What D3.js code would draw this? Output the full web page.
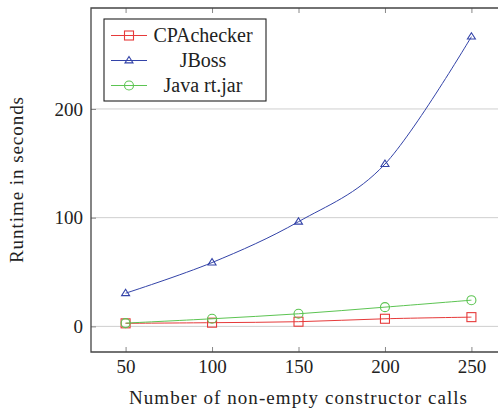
<!DOCTYPE html>
<html>
<head>
<meta charset="utf-8">
<script src="https://cdn.jsdelivr.net/npm/d3@7"></script>
<style>
  body { margin: 0; background: #fff; }
  svg text { font-family: "Liberation Serif", "DejaVu Serif", serif; fill: #222; }
</style>
</head>
<body>
<div id="chart"></div>
<script>
var svgWidth = 498;
var svgHeight = 410;
var serif = "Liberation Serif, DejaVu Serif, serif";

// data
var constructorCalls = [50, 100, 150, 200, 250];
var cpacheckerTimes = [2.8, 3.4, 4.3, 7.0, 8.5];
var jbossTimes = [30.5, 58.7, 96.3, 149.3, 266.5];
var javaRtTimes = [3.0, 7.0, 11.6, 17.7, 24.1];
var xTickValues = [50, 100, 150, 200, 250];
var yTickValues = [0, 100, 200];

var seriesNames = ["CPAchecker", "JBoss", "Java rt.jar"];
var seriesColors = ["#e63a3a", "#3343a8", "#5cc452"];
var seriesMarkers = ["square", "triangle", "circle"];
var seriesValues = [cpacheckerTimes, jbossTimes, javaRtTimes];

// plot box (right side runs past the window, like the reference)
var plot = { left: 91, right: 506, top: 8, bottom: 352 };

var svg = d3.select("#chart")
  .append("svg")
  .attr("width", svgWidth)
  .attr("height", svgHeight);

// pgfplots-style 10% enlargement of the data limits
var xMin = d3.min(constructorCalls), xMax = d3.max(constructorCalls);
var xPad = (xMax - xMin) * 0.1;
var allY = d3.merge(seriesValues);
var yMin = d3.min(allY), yMax = d3.max(allY);
var yPad = (yMax - yMin) * 0.1;

var xScale = d3.scaleLinear()
  .domain([xMin - xPad, xMax + xPad])
  .range([plot.left, plot.right]);

var yScale = d3.scaleLinear()
  .domain([yMin - yPad, yMax + yPad])
  .range([plot.bottom, plot.top]);

// horizontal grid lines
svg.append("g")
  .selectAll("line")
  .data(yTickValues)
  .enter()
  .append("line")
  .attr("x1", plot.left)
  .attr("x2", plot.right)
  .attr("y1", d => yScale(d))
  .attr("y2", d => yScale(d))
  .attr("stroke", "#cfcfcf")
  .attr("stroke-width", 1);

// bottom axis: ticks point inward, labels below
var bottomAxis = d3.axisBottom(xScale)
  .tickValues(xTickValues)
  .tickSizeInner(-5)
  .tickSizeOuter(0)
  .tickPadding(7.5);

var xAxis = svg.append("g")
  .attr("transform", `translate(0, ${plot.bottom})`)
  .call(bottomAxis)
  .attr("font-family", serif)
  .attr("font-size", 19);
xAxis.select(".domain").remove();
xAxis.selectAll(".tick line").attr("stroke", "#888");
xAxis.selectAll("text")
  .style("font-family", serif)
  .style("font-size", "19px")
  .attr("fill", "#222");

// mirrored x ticks along the top
var topAxis = d3.axisTop(xScale)
  .tickValues(xTickValues)
  .tickSizeInner(-5)
  .tickSizeOuter(0)
  .tickFormat("");
var xTopAxis = svg.append("g")
  .attr("transform", `translate(0, ${plot.top})`)
  .call(topAxis);
xTopAxis.select(".domain").remove();
xTopAxis.selectAll(".tick line").attr("stroke", "#888");

// left axis
var leftAxis = d3.axisLeft(yScale)
  .tickValues(yTickValues)
  .tickSizeInner(-5)
  .tickSizeOuter(0)
  .tickPadding(8);
var yAxis = svg.append("g")
  .attr("transform", `translate(${plot.left}, 0)`)
  .call(leftAxis)
  .attr("font-family", serif)
  .attr("font-size", 19);
yAxis.select(".domain").remove();
yAxis.selectAll(".tick line").attr("stroke", "#888");
yAxis.selectAll("text")
  .style("font-family", serif)
  .style("font-size", "19px")
  .attr("fill", "#222");

// frame (left, top, bottom; right edge is outside the window)
svg.append("path")
  .attr("d", `M${plot.right},${plot.top}H${plot.left}V${plot.bottom}H${plot.right}`)
  .attr("fill", "none")
  .attr("stroke", "#444")
  .attr("stroke-width", 1.3);

// marker drawing helper
function drawMarker(g, type, cx, cy, color) {
  if (type === "square") {
    g.append("rect")
      .attr("x", cx - 4.5).attr("y", cy - 4.5)
      .attr("width", 9).attr("height", 9)
      .attr("fill", "none").attr("stroke", color).attr("stroke-width", 1.1);
  } else if (type === "circle") {
    g.append("circle")
      .attr("cx", cx).attr("cy", cy).attr("r", 4.5)
      .attr("fill", "none").attr("stroke", color).attr("stroke-width", 1.1);
  } else {
    var s = 4;
    g.append("path")
      .attr("d", `M${cx},${cy - s}L${cx + s},${cy + s * 0.6}L${cx - s},${cy + s * 0.6}Z`)
      .attr("fill", "none").attr("stroke", color).attr("stroke-width", 1.1);
  }
}

var line = d3.line()
  .x(d => xScale(d[0]))
  .y(d => yScale(d[1]))
  .curve(d3.curveCatmullRom.alpha(0));

var seriesGroup = svg.append("g");
seriesValues.forEach(function(values, i) {
  var pts = constructorCalls.map((c, j) => [c, values[j]]);
  seriesGroup.append("path")
    .datum(pts)
    .attr("d", line)
    .attr("fill", "none")
    .attr("stroke", seriesColors[i])
    .attr("stroke-width", 1);
  pts.forEach(function(p) {
    drawMarker(seriesGroup, seriesMarkers[i], xScale(p[0]), yScale(p[1]), seriesColors[i]);
  });
});

// legend
var legend = svg.append("g").attr("transform", "translate(104, 19)");
legend.append("rect")
  .attr("width", 162)
  .attr("height", 82)
  .attr("fill", "#fff")
  .attr("stroke", "#222")
  .attr("stroke-width", 1.1);

seriesNames.forEach(function(name, i) {
  var ly = 16.5 + i * 25;
  legend.append("line")
    .attr("x1", 7).attr("x2", 43)
    .attr("y1", ly).attr("y2", ly)
    .attr("stroke", seriesColors[i])
    .attr("stroke-width", 1);
  drawMarker(legend, seriesMarkers[i], 25, ly, seriesColors[i]);
  legend.append("text")
    .attr("x", 99)
    .attr("y", ly + 6.5)
    .attr("text-anchor", "middle")
    .style("font-size", "20px")
    .text(name);
});

// axis titles
svg.append("text")
  .attr("x", 129)
  .attr("y", 404)
  .attr("textLength", 338)
  .attr("lengthAdjust", "spacing")
  .style("font-size", "19px")
  .text("Number of non-empty constructor calls");

svg.append("text")
  .attr("transform", `translate(23, 263) rotate(-90)`)
  .attr("textLength", 166)
  .attr("lengthAdjust", "spacing")
  .style("font-size", "19px")
  .text("Runtime in seconds");
</script>
</body>
</html>
